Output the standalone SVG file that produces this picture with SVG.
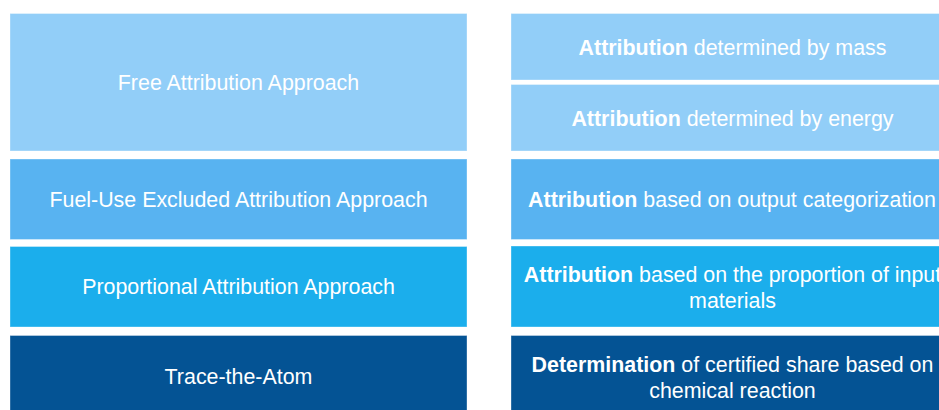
<svg xmlns="http://www.w3.org/2000/svg" width="939" height="410" viewBox="0 0 939 410">
  <style>
    .box { stroke: #ffffff; stroke-opacity: 0.35; stroke-width: 1; }
    .r1 { fill: #92CEF8; }
    .r2 { fill: #58B3F1; }
    .r3 { fill: #1BAEEC; }
    .r4 { fill: #045394; }
    text { font-family: "Liberation Sans", Arial, sans-serif; font-size: 21.4px; fill: #ffffff; text-anchor: middle; }
    .b { font-weight: bold; }
  </style>
  <rect width="939" height="410" fill="#ffffff"/>

  <!-- approaches (left column) -->
  <g id="free-attribution">
    <rect class="box r1" x="10" y="13.5" width="457" height="137.5"/>
    <text x="238.5" y="90">Free Attribution Approach</text>
  </g>
  <g id="fuel-use-excluded">
    <rect class="box r2" x="10" y="159" width="457" height="80.5"/>
    <text x="238.5" y="206.6">Fuel-Use Excluded Attribution Approach</text>
  </g>
  <g id="proportional">
    <rect class="box r3" x="10" y="246.5" width="457" height="80.5"/>
    <text x="238.5" y="294">Proportional Attribution Approach</text>
  </g>
  <g id="trace-the-atom">
    <rect class="box r4" x="10" y="335.5" width="457" height="85"/>
    <text x="238.5" y="383.5">Trace-the-Atom</text>
  </g>

  <!-- attribution rules (right column) -->
  <g id="by-mass">
    <rect class="box r1" x="511" y="13.5" width="443" height="66.5"/>
    <text x="732.5" y="54.5"><tspan class="b">Attribution</tspan> determined by mass</text>
  </g>
  <g id="by-energy">
    <rect class="box r1" x="511" y="84.5" width="443" height="66.5"/>
    <text x="732.5" y="125.5"><tspan class="b">Attribution</tspan> determined by energy</text>
  </g>
  <g id="output-categorization">
    <rect class="box r2" x="511" y="159" width="443" height="80.5"/>
    <text x="732" y="206.6"><tspan class="b">Attribution</tspan> based on output categorization</text>
  </g>
  <g id="input-proportion">
    <rect class="box r3" x="511" y="246" width="443" height="81"/>
    <text x="732.5" y="281.5"><tspan class="b">Attribution</tspan> based on the proportion of input</text>
    <text x="732.5" y="307.5">materials</text>
  </g>
  <g id="chemical-reaction">
    <rect class="box r4" x="511" y="335.5" width="443" height="85"/>
    <text x="732.5" y="371.5"><tspan class="b">Determination</tspan> of certified share based on</text>
    <text x="732.5" y="398">chemical reaction</text>
  </g>
</svg>
